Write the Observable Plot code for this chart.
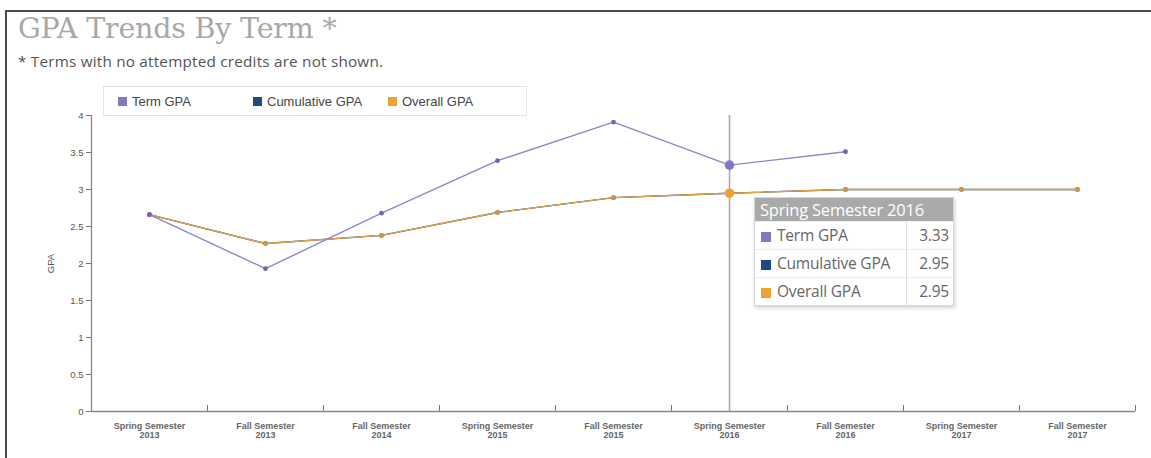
<!DOCTYPE html>
<html>
<head>
<meta charset="utf-8">
<script src="https://cdn.jsdelivr.net/npm/d3@7"></script>
<script src="https://cdn.jsdelivr.net/npm/@observablehq/plot@0.6"></script>
<style>
  html, body { margin: 0; padding: 0; background: #fff; }
  #wrap { position: relative; width: 1151px; height: 458px; overflow: hidden; font-family: "Open Sans", sans-serif; }
  #frame { position: absolute; left: 5px; top: 10px; width: 1200px; height: 500px; border-left: 2px solid #4a4a4a; border-top: 2px solid #4a4a4a; pointer-events: none; }
  #head { height: 70px; position: relative; }
  #title { position: absolute; left: 18px; top: 12px; font-family: "DejaVu Serif", serif; font-size: 28.5px; color: #a8a8a8; letter-spacing: -0.2px; white-space: nowrap; }
  #subtitle { position: absolute; left: 18px; top: 51px; font-size: 15.3px; color: #555; white-space: nowrap; letter-spacing: 0.2px; }
  #legend { position: absolute; left: 103px; top: 86px; width: 422px; height: 28px; border: 1px solid #e4e4e4; background: #fff; font-family: "Liberation Sans", Arial, sans-serif; font-size: 13px; color: #444; display: flex; align-items: center; }
  .li { display: flex; align-items: center; width: 135px; }
  .li:first-child { margin-left: 14px; }
  .sw { width: 9px; height: 9px; margin-right: 5px; display: inline-block; }
  #tip { position: absolute; width: 198px; border: 1px solid #d6d6d6; background: #fff; box-shadow: 1px 2px 4px rgba(0,0,0,0.18); font-family: "Open Sans", sans-serif; color: #666; }
  #tip .th { background: #a9a9a9; color: #fff; font-size: 16.5px; height: 23px; line-height: 23px; padding-left: 5px; white-space: nowrap; letter-spacing: -0.2px; }
  #tip table { border-collapse: collapse; width: 100%; font-size: 15.5px; }
  #tip td { height: 27px; padding: 0 4px 0 6px; border-top: 1px solid #eee; white-space: nowrap; letter-spacing: -0.2px; }
  #tip td.v { text-align: right; border-left: 1px solid #ddd; width: 36px; }
  #tip .sw { width: 10px; height: 10px; margin-right: 6px; vertical-align: -1px; }
  svg { display: block; }
</style>
</head>
<body>
<div id="wrap">
  <div id="head">
    <div id="title">GPA Trends By Term *</div>
    <div id="subtitle">* Terms with no attempted credits are not shown.</div>
  </div>
  <div id="chart"></div>
  <div id="legend"></div>
  <div id="tip"></div>
  <div id="frame"></div>
</div>
<script>
// ---- data ----
const terms = [
  "Spring Semester\n2013", "Fall Semester\n2013", "Fall Semester\n2014",
  "Spring Semester\n2015", "Fall Semester\n2015", "Spring Semester\n2016",
  "Fall Semester\n2016", "Spring Semester\n2017", "Fall Semester\n2017"
];
const termGPA       = [2.66, 1.93, 2.68, 3.39, 3.91, 3.33, 3.51, null, null];
const cumulativeGPA = [2.66, 2.27, 2.38, 2.69, 2.89, 2.95, 3.00, 3.00, 3.00];
const overallGPA    = [2.66, 2.27, 2.38, 2.69, 2.89, 2.95, 3.00, 3.00, 3.00];
const yTicks = [0, 0.5, 1, 1.5, 2, 2.5, 3, 3.5, 4];
const seriesNames = ["Term GPA", "Cumulative GPA", "Overall GPA"];
const seriesColors = ["#7f78c2", "#1d4a80", "#f0a02e"];
const lineColors = ["#8c86cc", "#1d4a80", "#e0a347"];
const selectedTerm = "Spring Semester\n2016";

// ---- build ----
const seriesValues = [termGPA, cumulativeGPA, overallGPA];
const rows = [];
seriesNames.forEach((s, k) => {
  seriesValues[k].forEach((v, i) => { if (v != null) rows.push({series: s, i, term: terms[i], v}); });
});
const sel = terms.indexOf(selectedTerm);
const boundaries = d3.range(terms.length + 1).map(i => i - 0.5);

const W = 1151, H = 388;
const plot = Plot.plot({
  width: W, height: H,
  marginLeft: 91, marginRight: 16, marginTop: 45, marginBottom: 47,
  style: {fontFamily: "'Liberation Sans', Arial, sans-serif", color: "#555", background: "transparent"},
  x: {type: "linear", domain: [-0.5, terms.length - 0.5]},
  y: {domain: [0, 4]},
  marks: [
    Plot.ruleX([sel], {stroke: "#a8a8a8", strokeWidth: 1.5}),
    Plot.axisY({ticks: yTicks, tickSize: 5, fontSize: 9.5, tickPadding: 3, stroke: "#777",
      tickFormat: d => String(d),
      label: "GPA", labelAnchor: "center", labelArrow: "none", labelOffset: 44}),
    Plot.axisX({ticks: d3.range(terms.length), tickSize: 0, tickPadding: 10, fontSize: 9,
      fontWeight: "bold", fill: "#666", tickFormat: i => terms[i], lineHeight: 1.1, label: null}),
    Plot.axisX({ticks: boundaries, tickSize: -6, tickFormat: () => "", stroke: "#777", label: null}),
    Plot.ruleX([-0.5], {stroke: "#888", strokeWidth: 1.3}),
    Plot.ruleY([0], {stroke: "#888", strokeWidth: 1.3}),
    ...[1, 2, 0].map(k => Plot.line(rows.filter(d => d.series === seriesNames[k]), {
      x: "i", y: "v", stroke: lineColors[k], strokeWidth: 1.4})),
    ...[1, 2, 0].map(k => Plot.dot(rows.filter(d => d.series === seriesNames[k] && d.i !== sel), {
      x: "i", y: "v", r: 2.4, fill: k === 2 ? "#c99a4a" : "#6d66b0"})),
    ...[1, 2, 0].map(k => Plot.dot(rows.filter(d => d.series === seriesNames[k] && d.i === sel), {
      x: "i", y: "v", r: 4.8, fill: seriesColors[k], fillOpacity: k === 1 ? 0 : 1}))
  ]
});
document.getElementById("chart").appendChild(plot);

// legend
const lg = document.getElementById("legend");
seriesNames.forEach((s, k) => {
  const it = document.createElement("div");
  it.className = "li";
  it.innerHTML = `<span class="sw" style="background:${seriesColors[k]}"></span><span>${s}</span>`;
  lg.appendChild(it);
});

// tooltip
const sx = plot.scale("x"), sy = plot.scale("y");
const tip = document.getElementById("tip");
tip.innerHTML = `<div class="th">${selectedTerm.replace("\n", " ")}</div><table>` +
  seriesNames.map((s, k) => `<tr><td><span class="sw" style="background:${seriesColors[k]}"></span>${s}</td><td class="v">${seriesValues[k][sel].toFixed(2)}</td></tr>`).join("") +
  `</table>`;
tip.style.left = (sx.apply(sel) + 25) + "px";
tip.style.top = (70 + sy.apply(overallGPA[sel]) + 4) + "px";
</script>
</body>
</html>
